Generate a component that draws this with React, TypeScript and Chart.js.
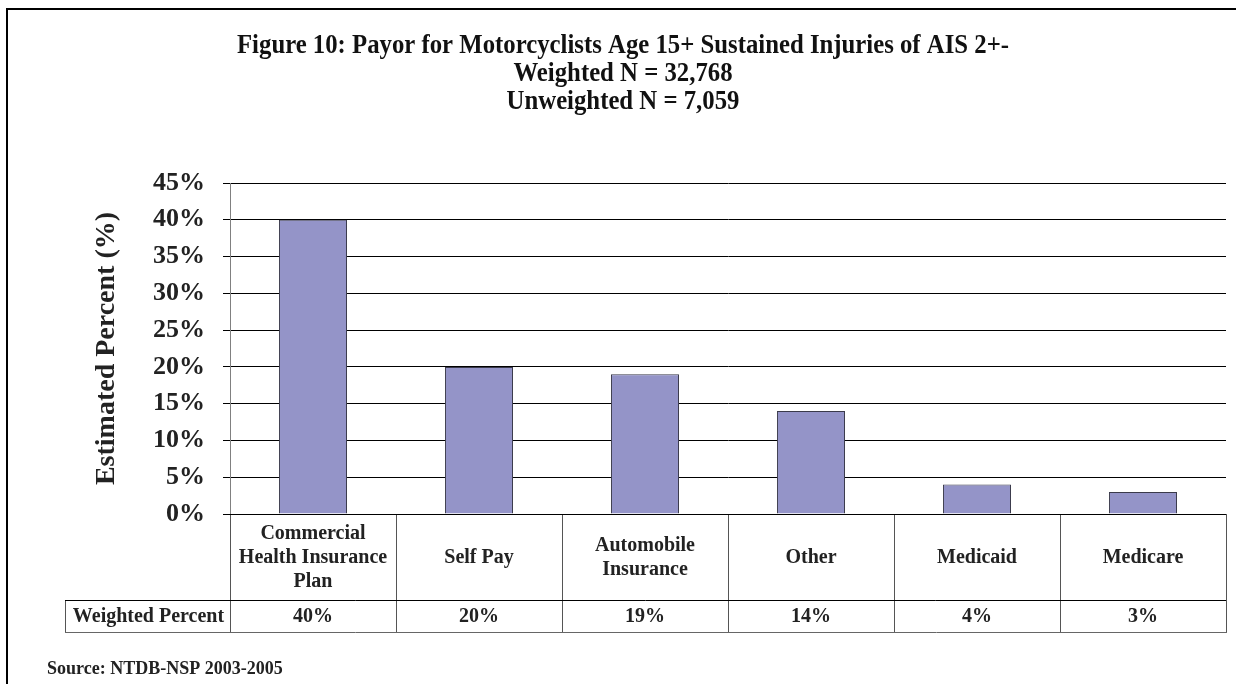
import React, { useEffect, useRef } from 'react';
import { Chart, registerables } from 'chart.js';

Chart.register(...registerables);

const titleLines = [
  'Figure 10: Payor for Motorcyclists Age 15+ Sustained Injuries of AIS 2+-',
  'Weighted N = 32,768',
  'Unweighted N = 7,059',
];
const categories: string[][] = [
  ['Commercial', 'Health Insurance', 'Plan'],
  ['Self Pay'],
  ['Automobile', 'Insurance'],
  ['Other'],
  ['Medicaid'],
  ['Medicare'],
];
const weightedPercent = [40, 20, 19, 14, 4, 3];
const yMin = 0;
const yMax = 45;
const yStep = 5;
const rowLabel = 'Weighted Percent';
const yAxisTitle = 'Estimated Percent (%)';
const sourceNote = 'Source: NTDB-NSP 2003-2005';

const SERIF = '"Liberation Serif", "Times New Roman", serif';

const decorPlugin = {
  id: 'decor',
  afterDraw(chart: any) {
    const { ctx, chartArea } = chart;
    const x = chart.scales.x;
    ctx.save();
    // frame
    ctx.fillStyle = '#000';
    ctx.fillRect(6, 8, 2, 684);
    ctx.fillRect(6, 8, 1236, 2);

    // title (condensed)
    ctx.fillStyle = '#111';
    ctx.textAlign = 'center';
    ctx.textBaseline = 'middle';
    ctx.font = `bold 27px ${SERIF}`;
    const w0 = ctx.measureText(titleLines[0]).width;
    const sx = 772 / w0;
    const ys = [46, 74, 102];
    titleLines.forEach((line, i) => {
      ctx.save();
      ctx.translate(623, ys[i]);
      ctx.scale(sx, 1);
      ctx.fillText(line, 0, 0);
      ctx.restore();
    });

    // data table
    const top = chartArea.bottom;
    const split = top + 86;
    const bottom = top + 118;
    const left = chartArea.left;
    const right = chartArea.right;
    const labelLeft = 65;
    const step = x.getPixelForValue(1) - x.getPixelForValue(0);

    ctx.lineWidth = 1;
    // verticals
    ctx.strokeStyle = '#555';
    for (let i = 0; i <= categories.length; i++) {
      const px = Math.round(left + i * step) + 0.5;
      ctx.beginPath();
      ctx.moveTo(px, top);
      ctx.lineTo(px, bottom);
      ctx.stroke();
    }
    ctx.beginPath();
    ctx.moveTo(labelLeft + 0.5, split);
    ctx.lineTo(labelLeft + 0.5, bottom);
    ctx.stroke();
    // horizontals
    ctx.strokeStyle = '#000';
    ctx.beginPath();
    ctx.moveTo(left, top + 0.5);
    ctx.lineTo(right, top + 0.5);
    ctx.moveTo(labelLeft, split + 0.5);
    ctx.lineTo(right, split + 0.5);
    ctx.stroke();
    ctx.strokeStyle = '#666';
    ctx.beginPath();
    ctx.moveTo(labelLeft, bottom + 0.5);
    ctx.lineTo(right + 1, bottom + 0.5);
    ctx.stroke();

    // texts
    ctx.fillStyle = '#222';
    ctx.font = `bold 20px ${SERIF}`;
    const rowMid = (top + split) / 2 + 1;
    const lh = 24;
    categories.forEach((lines, i) => {
      const cx = x.getPixelForValue(i);
      const start = rowMid - ((lines.length - 1) * lh) / 2;
      lines.forEach((t, j) => ctx.fillText(t, cx, start + j * lh));
      ctx.fillText(weightedPercent[i] + '%', cx, (split + bottom) / 2 + 1);
    });
    ctx.fillText(rowLabel, (labelLeft + left) / 2 + 1, (split + bottom) / 2 + 1);

    // source
    ctx.textAlign = 'left';
    ctx.font = `bold 18px ${SERIF}`;
    ctx.fillText(sourceNote, 47, 669);
    ctx.restore();
  },
};

export default function App() {
  const ref = useRef<HTMLCanvasElement | null>(null);
  useEffect(() => {
    document.body.style.margin = '0';
    const canvas = ref.current!;
    const chart = new Chart(canvas, {
      type: 'bar',
      data: {
        labels: categories.map((c) => c.join(' ')),
        datasets: [
          {
            data: weightedPercent,
            backgroundColor: '#9494C8',
            borderColor: '#3a3a4a',
            borderWidth: 1,
            barPercentage: 0.41,
            categoryPercentage: 1,
          },
        ],
      },
      options: {
        responsive: false,
        animation: false,
        devicePixelRatio: 1,
        layout: { padding: { left: 90, top: 183, right: 10, bottom: 52 } },
        plugins: {
          legend: { display: false },
          tooltip: { enabled: false },
          title: { display: false },
        },
        scales: {
          x: {
            type: 'category',
            grid: { display: false },
            border: { display: false },
            ticks: { display: false },
            afterFit: (s: any) => {
              s.height = 118;
            },
          },
          y: {
            min: yMin,
            max: yMax,
            ticks: {
              stepSize: yStep,
              callback: (v: any) => v + '%',
              font: { family: SERIF, size: 26, weight: 'bold' },
              color: '#222',
              padding: 18,
            },
            grid: { color: '#000', lineWidth: 1, tickLength: 7, drawTicks: true },
            border: { color: '#808080', width: 1 },
            title: {
              display: true,
              text: yAxisTitle,
              font: { family: SERIF, size: 28, weight: 'bold' },
              color: '#222',
              padding: { top: 0, bottom: 0 },
            },
            afterFit: (s: any) => {
              s.width = 140;
            },
          },
        },
      },
      plugins: [decorPlugin],
    });
    return () => chart.destroy();
  }, []);
  return (
    <div style={{ width: 1236, height: 684, background: '#fff' }}>
      <canvas ref={ref} width={1236} height={684} style={{ display: 'block', width: 1236, height: 684 }} />
    </div>
  );
}
